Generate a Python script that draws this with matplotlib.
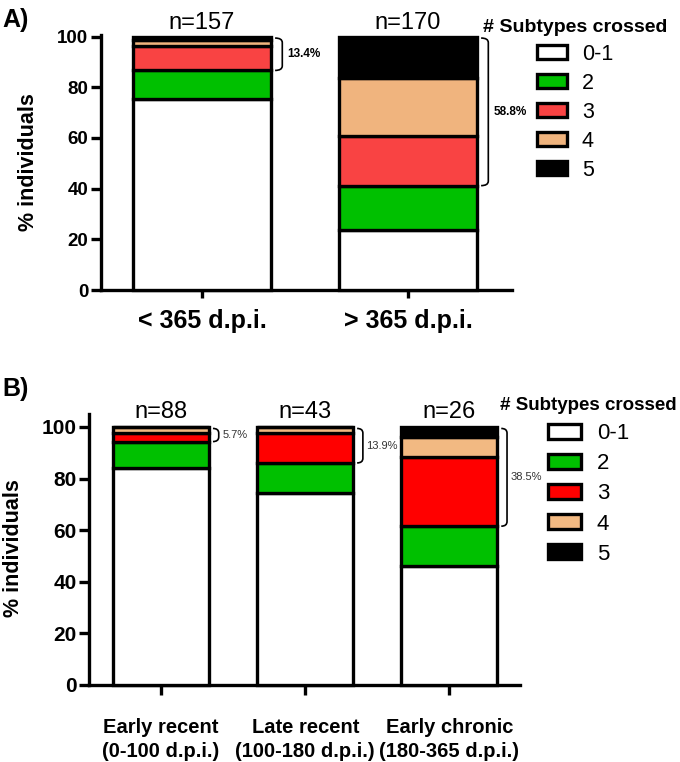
import matplotlib
matplotlib.use("Agg")
import matplotlib.pyplot as plt
from matplotlib.path import Path
from matplotlib.patches import PathPatch, Patch
import numpy as np

plt.rcParams['font.family'] = ['Liberation Sans', 'DejaVu Sans']

# subtype categories (legend)
subtypes = ["0-1", "2", "3", "4", "5"]

# Panel A: counts of individuals per number of subtypes crossed
groups_a = ["< 365 d.p.i.", "> 365 d.p.i."]
n_a = [157, 170]
counts_a = {
    "0-1": [118, 40],
    "2": [18, 30],
    "3": [15, 33],
    "4": [4, 39],
    "5": [2, 28],
}
pct_labels_a = ["13.4%", "58.8%"]

# Panel B
groups_b = ["Early recent\n(0-100 d.p.i.)", "Late recent\n(100-180 d.p.i.)",
            "Early chronic\n(180-365 d.p.i.)"]
n_b = [88, 43, 26]
counts_b = {
    "0-1": [74, 32, 12],
    "2": [9, 5, 4],
    "3": [3, 5, 7],
    "4": [2, 1, 2],
    "5": [0, 0, 1],
}
pct_labels_b = ["5.7%", "13.9%", "38.5%"]

colors_a = ["white", "#00C000", "#F94343", "#F0B47E", "black"]
colors_b = ["white", "#00C000", "#FF0000", "#F2B982", "black"]

LW = 2.4


def bracket(ax, x0, ytop, ybot, w, d, lw=1.2):
    x1 = x0 + w
    verts = [(x0, ytop), (x1, ytop), (x1, ytop - d),
             (x1, ybot + d), (x1, ybot), (x0, ybot)]
    codes = [Path.MOVETO, Path.CURVE3, Path.CURVE3,
             Path.LINETO, Path.CURVE3, Path.CURVE3]
    ax.add_patch(PathPatch(Path(verts, codes), fill=False, lw=lw,
                           edgecolor="black", clip_on=False))


def stacked(ax, groups, n, counts, colors, width):
    x = np.arange(len(groups))
    pct = {k: np.array(v) / np.array(n) * 100 for k, v in counts.items()}
    bottom = np.zeros(len(groups))
    for k, c in zip(subtypes, colors):
        ax.bar(x, pct[k], width, bottom=bottom, color=c, edgecolor="black",
               linewidth=LW, zorder=3, clip_on=False)
        bottom = bottom + pct[k]
    base = pct["0-1"] + pct["2"]
    return x, base


def style(ax, ylim, tick_fs, ylab_fs):
    ax.spines["right"].set_visible(False)
    ax.spines["top"].set_visible(False)
    ax.spines["left"].set_linewidth(LW)
    ax.spines["bottom"].set_linewidth(LW)
    ax.set_ylim(*ylim)
    ax.set_yticks([0, 20, 40, 60, 80, 100])
    ax.tick_params(axis="y", length=7, width=LW, labelsize=tick_fs, pad=2)
    for t in ax.get_yticklabels():
        t.set_fontweight("bold")
    ax.set_ylabel("% individuals", fontsize=ylab_fs, fontweight="bold")


fig = plt.figure(figsize=(6.8, 7.62), dpi=100)

# ---- panel A ----
axA = fig.add_axes([101 / 680, 1 - 290 / 762, 411 / 680, 255 / 762])
xa, base_a = stacked(axA, groups_a, n_a, counts_a, colors_a, 0.67)
axA.set_xlim(-0.49, 1.505)
style(axA, (0, 100.6), 13.5, 15.5)
axA.set_xticks(xa)
axA.set_xticklabels(groups_a, fontsize=18, fontweight="bold")
axA.tick_params(axis="x", length=6, width=LW, pad=8)
axA.yaxis.set_label_coords(-0.15, 0.5)
for i, xi in enumerate(xa):
    axA.text(xi, 103, "n=%d" % n_a[i], ha="center", va="baseline", fontsize=17)
    bracket(axA, xi + 0.355, 99.4, base_a[i], 0.035, 1.8)
    axA.text(xi + 0.415, (99.4 + base_a[i]) / 2, pct_labels_a[i], fontsize=8.5,
             fontweight="bold", ha="left", va="center")

handles_a = [Patch(facecolor=c, edgecolor="black", linewidth=LW) for c in colors_a]
legA = fig.legend(handles_a, subtypes, loc="upper left",
                  bbox_to_anchor=(472 / 680, 1 - 8 / 762), frameon=False,
                  fontsize=15.5, handlelength=1.4, handleheight=0.65,
                  labelspacing=0.37, handletextpad=0.7, borderpad=0,
                  title="# Subtypes crossed",
                  title_fontproperties={"weight": "bold", "size": 14})

fig.text(0.003, 1 - 27 / 762, "A)", fontsize=18, fontweight="bold", va="baseline")

# ---- panel B ----
axB = fig.add_axes([89 / 680, 1 - 685 / 762, 431 / 680, 271 / 762])
xb, base_b = stacked(axB, groups_b, n_b, counts_b, colors_b, 0.667)
axB.set_xlim(-0.5, 2.49)
style(axB, (0, 105), 15, 15.5)
axB.set_xticks(xb)
axB.set_xticklabels(groups_b, fontsize=14.5, fontweight="bold", linespacing=1.3)
axB.tick_params(axis="x", length=7, width=LW, pad=17)
axB.yaxis.set_label_coords(-0.15, 0.505)
for i, xi in enumerate(xb):
    axB.text(xi, 103.6, "n=%d" % n_b[i], ha="center", va="baseline", fontsize=17)
    bracket(axB, xi + 0.36, 99.4, base_b[i], 0.04, 1.8)
    axB.text(xi + 0.425, (99.4 + base_b[i]) / 2, pct_labels_b[i], fontsize=8,
             color="#333333", ha="left", va="center")

handles_b = [Patch(facecolor=c, edgecolor="black", linewidth=LW) for c in colors_b]
legB = fig.legend(handles_b, subtypes, loc="upper left",
                  bbox_to_anchor=(489 / 680, 1 - 386 / 762), frameon=False,
                  fontsize=16, handlelength=1.5, handleheight=0.65,
                  labelspacing=0.41, handletextpad=0.7, borderpad=0,
                  title="# Subtypes crossed",
                  title_fontproperties={"weight": "bold", "size": 13.5})

fig.text(0.003, 1 - 396 / 762, "B)", fontsize=18, fontweight="bold", va="baseline")

fig.savefig("out.png", dpi=100)
